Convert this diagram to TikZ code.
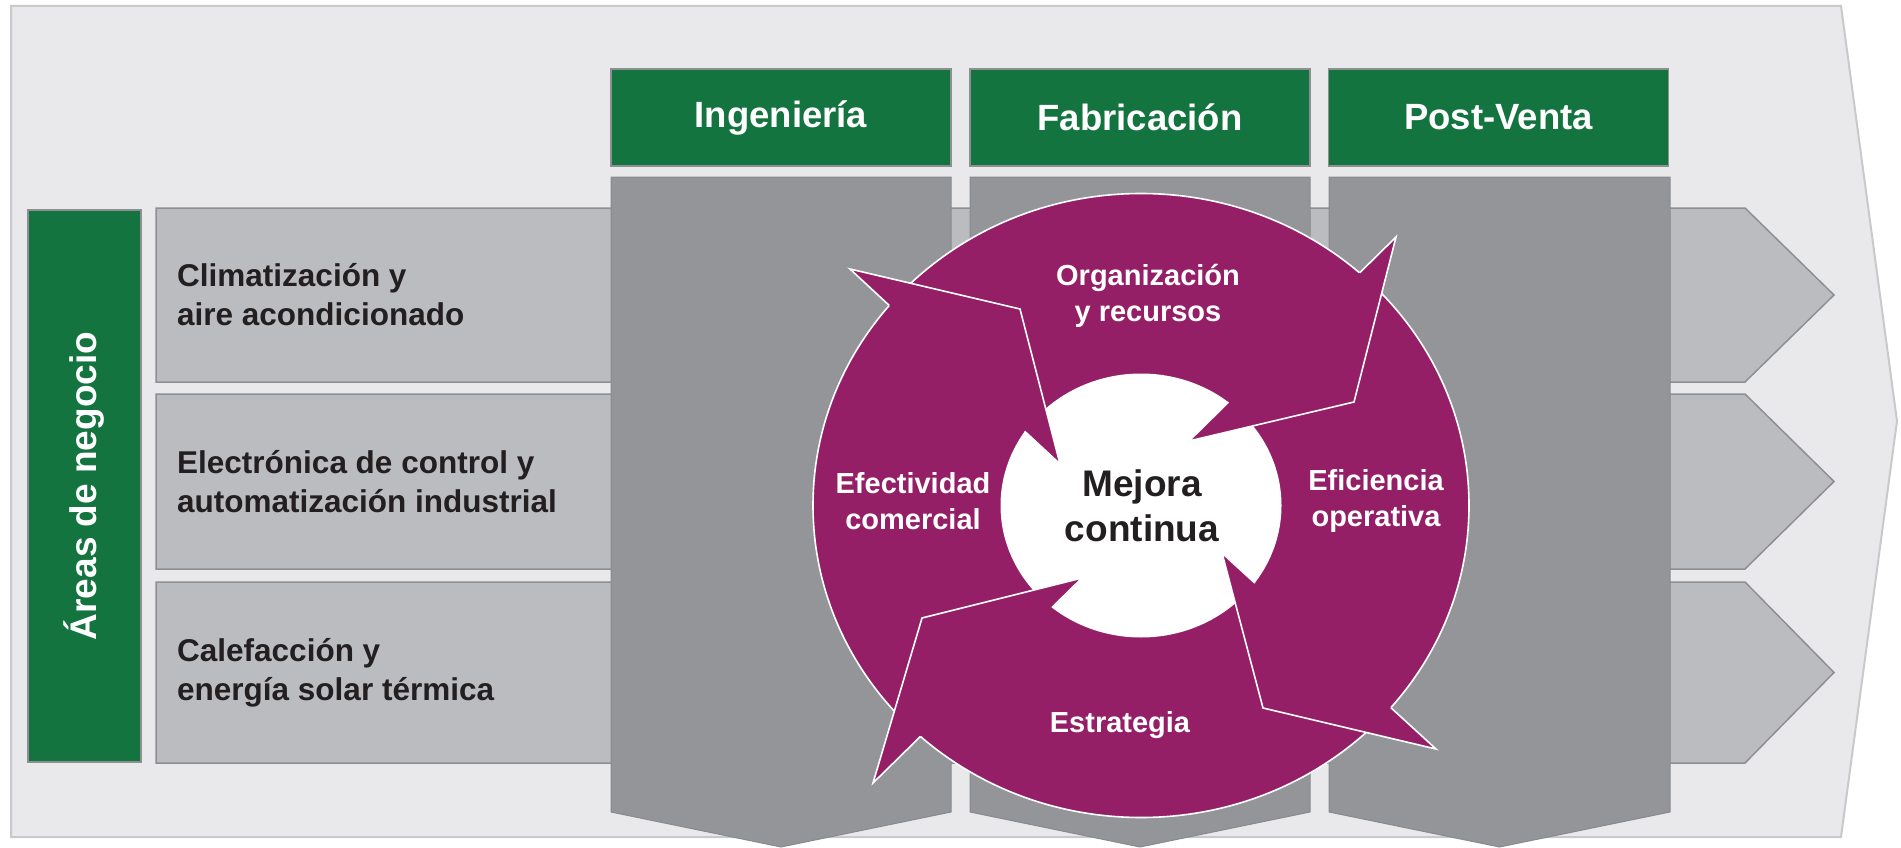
\documentclass[tikz,border=0pt]{standalone}
\usepackage{fontspec}
\setmainfont{Liberation Sans}
\usetikzlibrary{intersections}
\definecolor{bgfill}{HTML}{E9E9EB}
\definecolor{bgline}{HTML}{C8C9CB}
\definecolor{grn}{HTML}{137440}
\definecolor{rowfill}{HTML}{BBBCBF}
\definecolor{rowline}{HTML}{8E8F92}
\definecolor{colfill}{HTML}{939598}
\definecolor{colline}{HTML}{898A8D}
\definecolor{purp}{HTML}{941F67}
\definecolor{txt}{HTML}{231F20}
\tikzset{
  rowshape/.style={fill=rowfill, draw=rowline, line width=1.5pt},
  colshape/.style={fill=colfill, draw=colline, line width=1pt},
  hdr/.style={fill=grn, draw=rowline, line width=1.2pt, minimum width=340pt, minimum height=97pt,
    inner sep=0pt, text=white, font=\fontsize{36.5pt}{40pt}\selectfont\bfseries},
  rowtext/.style={anchor=west, inner sep=0pt, align=left, text=txt,
    font=\fontsize{31.5pt}{39pt}\selectfont\bfseries},
  circtext/.style={inner sep=0pt, align=center, text=white,
    font=\fontsize{29pt}{36pt}\selectfont\bfseries},
  wline/.style={draw=white, line width=1.6pt, line join=miter}
}
\begin{document}
\begin{tikzpicture}[x=1pt,y=-1pt]
\useasboundingbox (0,0) rectangle (1901,848);
% background arrow
\draw[bgline, fill=bgfill, line width=2pt] (11,6) -- (1841,6) -- (1897,421) -- (1841,837) -- (11,837) -- cycle;
% left green box
\draw[fill=grn, draw=rowline, line width=1.2pt] (28,210) rectangle (141,762);
\node[rotate=90, text=white, inner sep=0pt, font=\fontsize{37pt}{40pt}\selectfont\bfseries] (areas) at (84.5,486) {Áreas de negocio};
% rows
\draw[rowshape] (156,208) -- (1745,208) -- (1834,295) -- (1745,382) -- (156,382) -- cycle;
\draw[rowshape] (156,394) -- (1745,394) -- (1834,481.5) -- (1745,569) -- (156,569) -- cycle;
\draw[rowshape] (156,582) -- (1745,582) -- (1834,672.5) -- (1745,763) -- (156,763) -- cycle;
\node[rowtext] (r1) at (177,295) {Climatización y\\aire acondicionado};
\node[rowtext] (r2) at (177,482) {Electrónica de control y\\automatización industrial};
\node[rowtext] (r3) at (177,673) {Calefacción y\\energía solar térmica};
% columns
\foreach \xl/\xr in {611/951, 970/1310, 1329/1670}{
  \draw[colshape] (\xl,177) -- (\xr,177) -- (\xr,812) -- ({(\xl+\xr)/2},847) -- (\xl,812) -- cycle;
}
% headers
\node[hdr] (ing) at (781,117.5) {Ingeniería};
\node[hdr] (fab) at (1140,117.5) {Fabricación};
\node[hdr] (post) at (1498.5,117.5) {Post-Venta};
% circle
\coordinate (c) at (1141,505.5);
\fill[purp] (c) ellipse [x radius=328pt, y radius=312pt];
\draw[white, line width=1.6pt] (c) ellipse [x radius=328pt, y radius=312pt];
\fill[white] (c) ellipse [x radius=140.5pt, y radius=132pt];
\path[name path=outer] (c) ellipse [x radius=328pt, y radius=312pt];
\path[name path=inner] (c) ellipse [x radius=140.5pt, y radius=132pt];
% arrow heads
\coordinate (h1a) at (850,269);  \coordinate (h1t) at (1020,309); \coordinate (h1b) at (1060,464);
\coordinate (h2a) at (1396,237); \coordinate (h2t) at (1354,402); \coordinate (h2b) at (1189,441);
\coordinate (h3a) at (1436,749); \coordinate (h3t) at (1263,708); \coordinate (h3b) at (1222,553);
\coordinate (h4a) at (873,783);  \coordinate (h4t) at (922,618);  \coordinate (h4b) at (1082,578);
\foreach \i in {1,2,3,4}{
  \fill[purp] (h\i a) -- (h\i t) -- (h\i b) -- cycle;
  \path[name path=base\i] (h\i a) -- (h\i b);
  \path[name intersections={of=outer and base\i, by={p\i}}];
  \path[name intersections={of=inner and base\i, by={q\i}}];
  \draw[wline] (p\i) -- (h\i a) -- (h\i t) -- (h\i b) -- (q\i);
}
% labels
\node[circtext] (org) at (1148,296) {Organización\\y recursos};
\node[circtext] (efe) at (913,501) {Efectividad\\comercial};
\node[circtext] (efi) at (1376,501) {Eficiencia\\operativa};
\node[circtext] (est) at (1120,725) {Estrategia};
\node[inner sep=0pt, align=center, text=txt, font=\fontsize{37pt}{45pt}\selectfont\bfseries] (mej) at (1142,505.5) {Mejora\\continua};
\end{tikzpicture}
\end{document}
